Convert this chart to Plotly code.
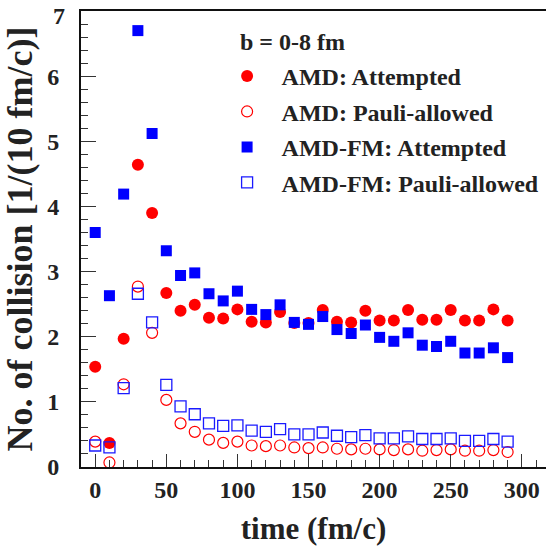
import plotly.graph_objects as go

time = [0, 10, 20, 30, 40, 50, 60, 70, 80, 90, 100, 110, 120, 130, 140,
        150, 160, 170, 180, 190, 200, 210, 220, 230, 240, 250, 260, 270, 280, 290]

amd_attempted = [1.54, 0.37, 1.97, 4.64, 3.90, 2.67, 2.40, 2.49, 2.29, 2.28,
                 2.42, 2.23, 2.22, 2.38, 2.21, 2.21, 2.41, 2.23, 2.22, 2.40,
                 2.25, 2.25, 2.41, 2.26, 2.26, 2.41, 2.25, 2.25, 2.42, 2.25]
amd_pauli = [0.39, 0.07, 1.27, 2.77, 2.06, 1.03, 0.67, 0.54, 0.42, 0.37,
             0.39, 0.33, 0.32, 0.33, 0.30, 0.29, 0.30, 0.28, 0.27, 0.28,
             0.27, 0.26, 0.27, 0.25, 0.26, 0.27, 0.25, 0.25, 0.26, 0.23]
amdfm_attempted = [3.60, 2.63, 4.19, 6.70, 5.12, 3.32, 2.94, 2.98, 2.66, 2.55,
                   2.70, 2.42, 2.34, 2.49, 2.22, 2.19, 2.31, 2.11, 2.05, 2.18,
                   1.99, 1.93, 2.06, 1.87, 1.85, 1.93, 1.75, 1.75, 1.83, 1.68]
amdfm_pauli = [0.33, 0.30, 1.21, 2.66, 2.22, 1.26, 0.93, 0.81, 0.67, 0.63,
               0.64, 0.56, 0.54, 0.58, 0.50, 0.50, 0.53, 0.48, 0.46, 0.49,
               0.44, 0.44, 0.47, 0.43, 0.43, 0.44, 0.40, 0.40, 0.43, 0.39]

names = ["AMD: Attempted", "AMD: Pauli-allowed", "AMD-FM: Attempted", "AMD-FM: Pauli-allowed"]
legend_title = "b = 0-8 fm"
x_title = "time (fm/c)"
y_title = "No. of collision [1/(10 fm/c)]"
x_ticks = [0, 50, 100, 150, 200, 250, 300]
y_ticks = [0, 1, 2, 3, 4, 5, 6, 7]

FONT = "Liberation Serif"
TXT = "#222222"

fig = go.Figure()
fig.add_trace(go.Scatter(x=time, y=amd_attempted, mode="markers", name=names[0], legendgroup="g1",
                         marker=dict(symbol="circle", size=12, color="#ff0000", line=dict(width=0))))
fig.add_trace(go.Scatter(x=time, y=amd_pauli, mode="markers", name=names[1], legendgroup="g2",
                         marker=dict(symbol="circle-open", size=11, color="#ff0000", line=dict(width=1.2, color="#ff0000"))))
fig.add_trace(go.Scatter(x=time, y=amdfm_attempted, mode="markers", name=names[2], legendgroup="g3",
                         marker=dict(symbol="square", size=11, color="#0000ff", line=dict(width=0))))
fig.add_trace(go.Scatter(x=time, y=amdfm_pauli, mode="markers", name=names[3], legendgroup="g4",
                         marker=dict(symbol="square-open", size=11, color="#1a1aff", line=dict(width=1.3, color="#1a1aff"))))

# top tick label (plotly drops the label sitting on the upper edge), drawn at the axis value
top_tick = y_ticks[-1]

fig.update_layout(
    width=546, height=546,
    margin=dict(l=81, r=0, t=11, b=79),
    paper_bgcolor="white", plot_bgcolor="white",
    font=dict(family=FONT, size=24, color=TXT, weight="bold"),
    showlegend=True,
    legend=dict(
        x=0.283, y=0.906, xanchor="left", yanchor="top",
        bgcolor="rgba(0,0,0,0)",
        font=dict(family=FONT, size=24, color=TXT, weight="bold"),
        itemsizing="trace",
        itemwidth=59,
        tracegroupgap=1.3,
    ),
    annotations=[
        dict(text=legend_title, xref="paper", yref="paper",
             x=0.338, y=0.932, xanchor="left", yanchor="middle", showarrow=False,
             font=dict(family=FONT, size=24, color=TXT, weight="bold")),
        dict(text=str(top_tick), xref="paper", yref="y",
             x=-0.030, y=top_tick, xanchor="right", yanchor="top", yshift=10, showarrow=False,
             font=dict(family=FONT, size=24, color=TXT, weight="bold")),
    ],
)

fig.update_xaxes(
    range=[-10, 317], showgrid=False, zeroline=False,
    showline=True, linecolor="#111111", linewidth=2, mirror=True,
    ticks="inside", ticklen=13, tickwidth=1.3, tickcolor="#333333",
    tickvals=x_ticks,
    minor=dict(ticks="inside", ticklen=7, tickwidth=1.2, tickcolor="#333333", dtick=10, tick0=0, showgrid=False),
    tickfont=dict(family=FONT, size=24, color=TXT, weight="bold"),
    title=dict(text=x_title, font=dict(family=FONT, size=31, color=TXT, weight="bold"), standoff=19),
)
fig.update_yaxes(
    range=[0, 7.001], showgrid=False, zeroline=False,
    showline=True, linecolor="#111111", linewidth=2,
    ticks="inside", ticklen=15, tickwidth=1.3, tickcolor="#333333",
    tickvals=y_ticks,
    minor=dict(ticks="inside", ticklen=7, tickwidth=1.2, tickcolor="#333333", dtick=0.2, tick0=0, showgrid=False),
    tickfont=dict(family=FONT, size=24, color=TXT, weight="bold"),
    ticklabelstandoff=15,
    title=dict(text=y_title, font=dict(family=FONT, size=36, color=TXT, weight="bold"), standoff=6),
)

fig.write_html("out.html")
